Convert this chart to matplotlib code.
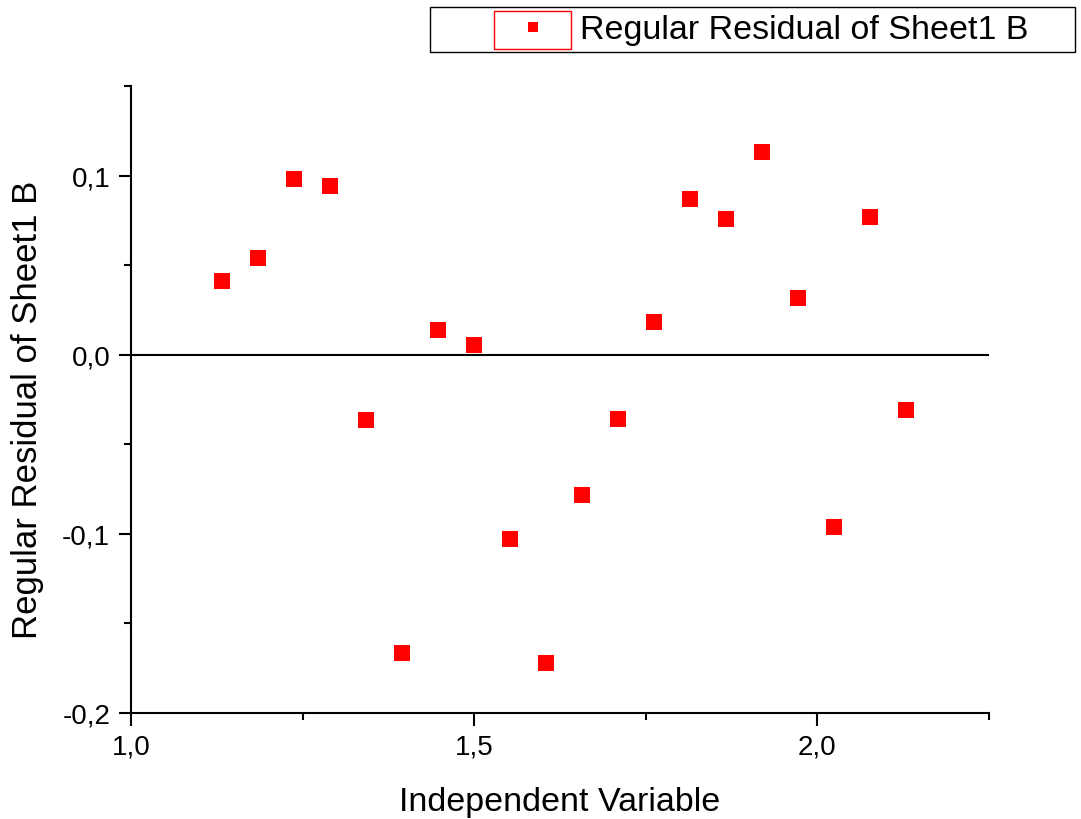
import matplotlib
matplotlib.use("Agg")
import matplotlib.pyplot as plt
from matplotlib.ticker import FixedLocator, FuncFormatter
from matplotlib.patches import Rectangle
from matplotlib.lines import Line2D

plt.rcParams['font.family'] = ['Liberation Sans', 'DejaVu Sans']

# Residual data
x_vals = [1.1327, 1.1851, 1.2376, 1.2901, 1.3426, 1.3950, 1.4475, 1.5000,
          1.5525, 1.6050, 1.6574, 1.7099, 1.7624, 1.8149, 1.8673, 1.9198,
          1.9723, 2.0248, 2.0773, 2.1297]
residuals = [0.0411, 0.0539, 0.0983, 0.0944, -0.0367, -0.1667, 0.0139, 0.0056,
             -0.1028, -0.1722, -0.0783, -0.0361, 0.0183, 0.0872, 0.0756, 0.1133,
             0.0317, -0.0961, 0.0767, -0.0311]

series_name = "Regular Residual of Sheet1 B"
x_label = "Independent Variable"
y_label = "Regular Residual of Sheet1 B"

fig = plt.figure(figsize=(10.81, 8.2), dpi=100)
ax = fig.add_axes([131/1081, 1 - 714/820, 858/1081, 627/820])

ax.plot(x_vals, residuals, 's', color='red', markersize=11, markeredgewidth=0)
ax.axhline(0, color='black', lw=1.5)

ax.set_xlim(1.0, 2.25)
ax.set_ylim(-0.2, 0.15)

ax.xaxis.set_major_locator(FixedLocator([1.0, 1.5, 2.0]))
ax.xaxis.set_minor_locator(FixedLocator([1.25, 1.75, 2.25]))
ax.yaxis.set_major_locator(FixedLocator([-0.2, -0.1, 0.0, 0.1]))
ax.yaxis.set_minor_locator(FixedLocator([-0.15, -0.05, 0.05, 0.15]))

comma = FuncFormatter(lambda v, p: f"{v:.1f}".replace('.', ','))
ax.xaxis.set_major_formatter(comma)
ax.yaxis.set_major_formatter(comma)

for s in ['top', 'right']:
    ax.spines[s].set_visible(False)
for s in ['left', 'bottom']:
    ax.spines[s].set_linewidth(1.5)

ax.tick_params(which='major', direction='out', length=9, width=1.5, labelsize=20, pad=6)
ax.tick_params(which='minor', direction='out', length=5, width=1.5)

ax.set_xlabel(x_label, fontsize=24.5)
ax.set_ylabel(y_label, fontsize=25)
ax.xaxis.set_label_coords(0.5, -0.117)
ax.yaxis.set_label_coords(-0.101, 0.485)

# Legend box above the plot, outside the axes
fig.patches.append(Rectangle((430/1081, 1 - 53/820), 645/1081, 45/820,
                             transform=fig.transFigure, fill=False,
                             edgecolor='black', lw=1.0))
fig.patches.append(Rectangle((494/1081, 1 - 50/820), 77/1081, 38/820,
                             transform=fig.transFigure, fill=False,
                             edgecolor='red', lw=1.0))
handle = Line2D([], [], marker='s', color='red', linestyle='none',
                markersize=7.5, markeredgewidth=0)
fig.legend([handle], [series_name], loc='center left',
           bbox_to_anchor=(516/1081, 1 - 31/820), frameon=False,
           fontsize=24.5, handlelength=1.0, handletextpad=0.88,
           borderpad=0, borderaxespad=0)

fig.savefig("out.png", dpi=100)
